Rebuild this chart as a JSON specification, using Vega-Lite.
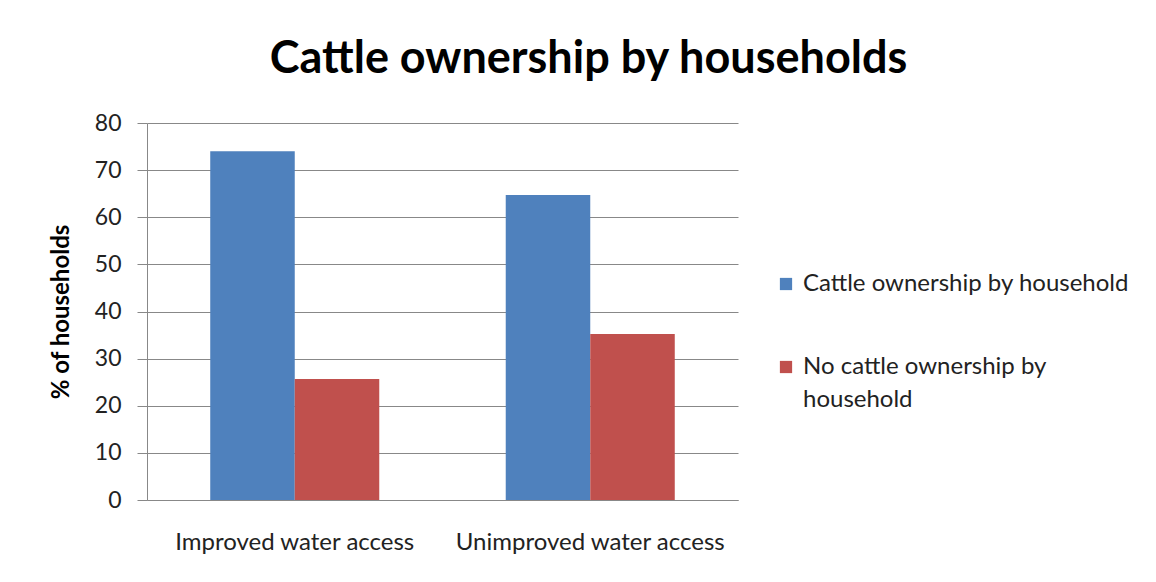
{
  "$schema": "https://vega.github.io/schema/vega-lite/v6.json",
  "width": 591,
  "height": 377,
  "autosize": "none",
  "padding": {"left": 147, "top": 123, "right": 418, "bottom": 82},
  "background": "white",
  "title": {
    "text": "Cattle ownership by households",
    "font": "Lato",
    "fontSize": 45,
    "fontWeight": "bold",
    "color": "black",
    "anchor": "middle",
    "frame": "group",
    "dx": 146,
    "offset": 30
  },
  "data": {
    "values": [
      {"access": "Improved water access", "group": "Cattle ownership by household", "pct": 74},
      {"access": "Improved water access", "group": "No cattle ownership by household", "pct": 25.7},
      {"access": "Unimproved  water access", "group": "Cattle ownership by household", "pct": 64.7},
      {"access": "Unimproved  water access", "group": "No cattle ownership by household", "pct": 35.2}
    ]
  },
  "mark": {"type": "bar"},
  "encoding": {
    "x": {
      "field": "access",
      "type": "nominal",
      "sort": null,
      "title": null,
      "scale": {"paddingInner": 0.428, "paddingOuter": 0.214},
      "axis": {
        "labelAngle": 0,
        "labelFont": "Lato",
        "labelFontSize": 24,
        "labelColor": "#222",
        "labelPadding": 30,
        "ticks": false,
        "domainColor": "#888",
        "labelLimit": 400
      }
    },
    "xOffset": {"field": "group", "type": "nominal", "sort": null, "scale": {"paddingInner": 0, "paddingOuter": 0}},
    "y": {
      "field": "pct",
      "type": "quantitative",
      "title": "% of households",
      "scale": {"domain": [0, 80]},
      "axis": {
        "values": [0, 10, 20, 30, 40, 50, 60, 70, 80],
        "labelFont": "Lato",
        "labelFontSize": 23,
        "labelColor": "#222",
        "labelPadding": 16,
        "tickSize": 10,
        "tickColor": "#888",
        "domainColor": "#888",
        "gridColor": "#888",
        "titleFont": "Lato",
        "titleFontSize": 24,
        "titleFontWeight": "bold",
        "titleColor": "black",
        "titlePadding": 21
      }
    },
    "color": {
      "field": "group",
      "type": "nominal",
      "sort": null,
      "scale": {"range": ["#4F81BD", "#C0504D"]},
      "legend": {
        "title": null,
        "orient": "none",
        "legendX": 627,
        "legendY": 149,
        "symbolType": "square",
        "symbolSize": 150,
        "symbolStrokeWidth": 0,
        "labelFont": "Lato",
        "labelFontSize": 24,
        "labelColor": "#222",
        "labelLimit": 400,
        "labelOffset": 5,
        "rowPadding": 59,
        "labelExpr": "datum.label == 'No cattle ownership by household' ? ['No cattle ownership by', 'household'] : datum.label",
        "encode": {"labels": {"update": {"lineHeight": {"value": 33}}}}
      }
    }
  },
  "config": {"view": {"stroke": null}}
}
